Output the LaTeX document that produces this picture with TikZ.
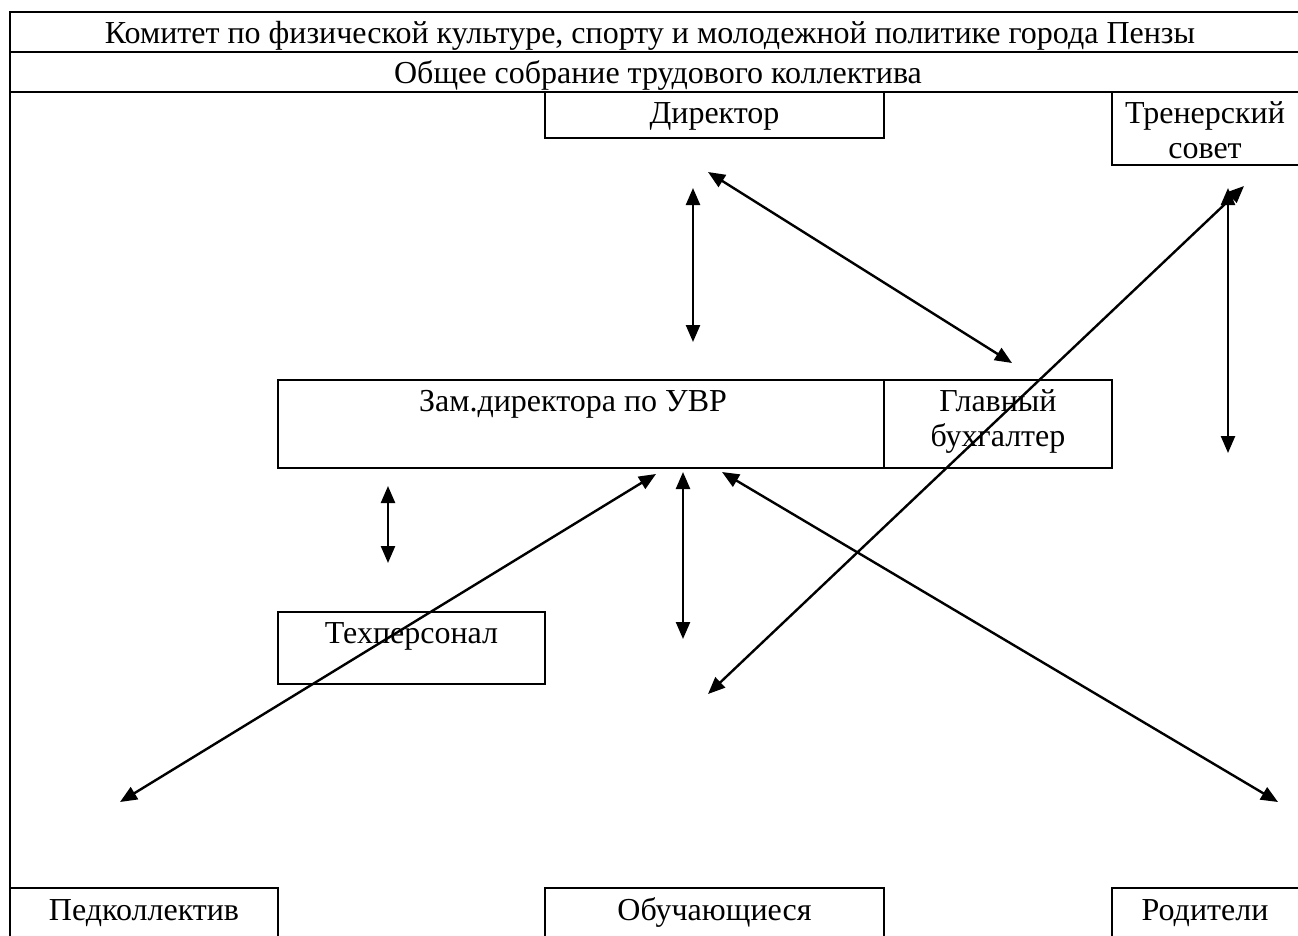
\documentclass[tikz,border=0pt]{standalone}
\usepackage{fontspec}
\setmainfont{Liberation Serif}
\usetikzlibrary{arrows.meta,calc}
\tikzset{
  frame/.style={line width=2.4pt},
  box/.style={draw, line width=2.4pt, anchor=north west, inner sep=0pt, outer sep=0pt},
  txt/.style={anchor=base, inner sep=0pt, font=\fontsize{32}{36}\selectfont},
  biarrow/.style={line width=2.4pt, {Triangle[length=17pt,width=14pt]}-{Triangle[length=17pt,width=14pt]}}
}
\begin{document}
\begin{tikzpicture}[x=1pt,y=-1pt]
\useasboundingbox (0,0) rectangle (1298,935);
% outer frame
\draw[frame] (10,12) -- (1300,12);
\draw[frame] (10,52) -- (1300,52);
\draw[frame] (10,92) -- (1300,92);
\draw[frame] (10,11) -- (10,937);
\node[txt] (kom) at (650,43) {Комитет по физической культуре, спорту и молодежной политике города Пензы};
\node[txt] (sobr) at (658,83) {Общее собрание трудового коллектива};
% boxes
\node[box, minimum width=339, minimum height=46] (dir) at (545,92) {};
\node[box, minimum width=190, minimum height=73] (trs) at (1112,92) {};
\node[box, minimum width=606, minimum height=88] (zam) at (278,380) {};
\node[box, minimum width=228, minimum height=88] (buh) at (884,380) {};
\node[box, minimum width=267, minimum height=72] (teh) at (278,612) {};
\node[box, minimum width=268, minimum height=50] (ped) at (10,888) {};
\node[box, minimum width=339, minimum height=50] (obu) at (545,888) {};
\node[box, minimum width=190, minimum height=50] (rod) at (1112,888) {};
% texts
\node[txt] (tdir) at ($(dir.north)+(0,31)$) {Директор};
\node[txt] (ttrs1) at ($(trs.north)+(-2,31)$) {Тренерский};
\node[txt] (ttrs2) at ($(trs.north)+(-2,66)$) {совет};
\node[txt] (tzam) at ($(zam.north)+(-8,31)$) {Зам.директора по УВР};
\node[txt] (tbuh1) at ($(buh.north)+(0,31)$) {Главный};
\node[txt] (tbuh2) at ($(buh.north)+(0,66)$) {бухгалтер};
\node[txt] (tteh) at ($(teh.north)+(0,31)$) {Техперсонал};
\node[txt] (tped) at ($(ped.north)+(0,32)$) {Педколлектив};
\node[txt] (tobu) at ($(obu.north)+(0,32)$) {Обучающиеся};
\node[txt] (trod) at ($(rod.north)+(-2,32)$) {Родители};
% arrow end points
\coordinate (a1s) at (693,188); \coordinate (a1e) at (693,342);
\coordinate (a2s) at (708,172); \coordinate (a2e) at (1012,363);
\coordinate (a3s) at (1244,186); \coordinate (a3e) at (708,694);
\coordinate (a4s) at (1228,188); \coordinate (a4e) at (1228,453);
\coordinate (a5s) at (388,486); \coordinate (a5e) at (388,563);
\coordinate (a6s) at (656,474); \coordinate (a6e) at (120,802);
\coordinate (a7s) at (683,472); \coordinate (a7e) at (683,639);
\coordinate (a8s) at (722,472); \coordinate (a8e) at (1278,802);
\draw[biarrow] (a1s) -- (a1e);
\draw[biarrow] (a2s) -- (a2e);
\draw[biarrow] (a3s) -- (a3e);
\draw[biarrow] (a4s) -- (a4e);
\draw[biarrow] (a5s) -- (a5e);
\draw[biarrow] (a6s) -- (a6e);
\draw[biarrow] (a7s) -- (a7e);
\draw[biarrow] (a8s) -- (a8e);
\end{tikzpicture}
\end{document}
